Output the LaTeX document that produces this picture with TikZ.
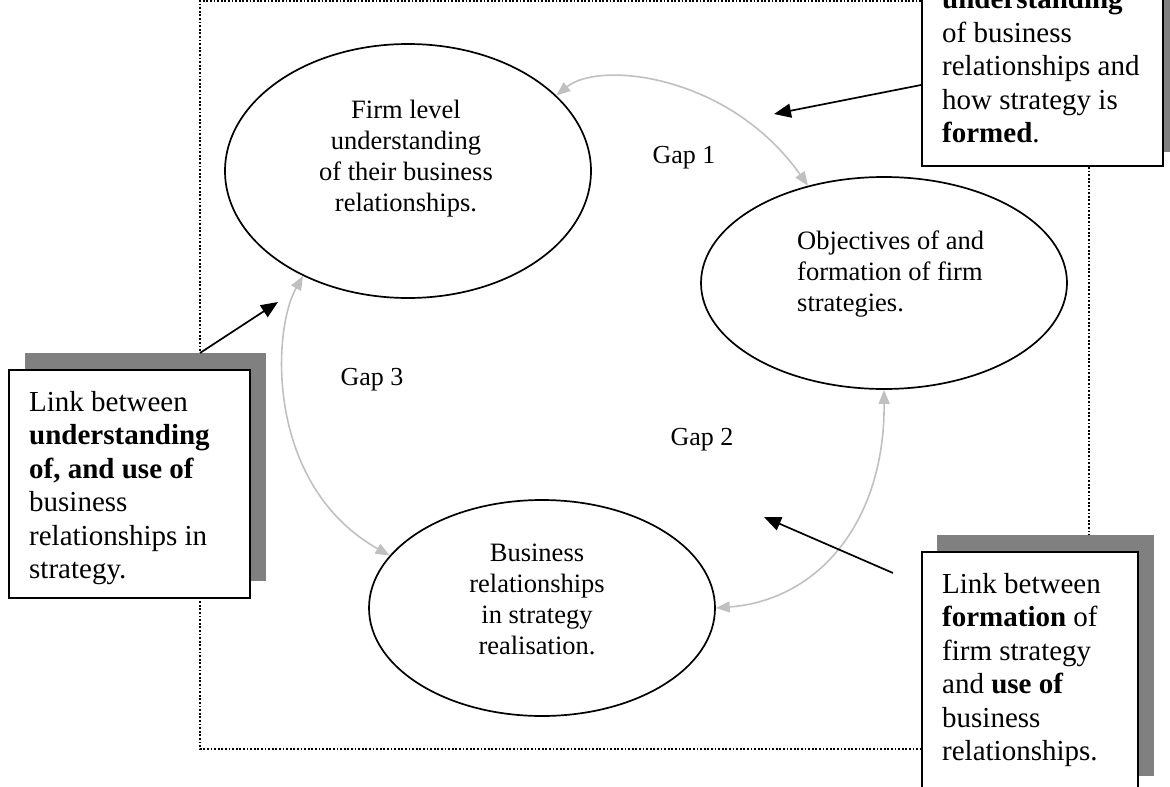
\documentclass[tikz,border=0pt]{standalone}
\usepackage{fontspec}
\setmainfont{Liberation Serif}
\usetikzlibrary{arrows.meta,calc,shapes.geometric}
\definecolor{shadowgray}{HTML}{808080}
\definecolor{arrowgray}{HTML}{C0C0C0}
\tikzset{
  ell/.style={draw, ellipse, line width=1.7pt, inner sep=0pt},
  etext/.style={font=\fontsize{26.5}{31}\selectfont, inner sep=0pt},
  boxtext/.style={font=\fontsize{29}{33.5}\selectfont, inner sep=0pt, align=left, anchor=north west},
  gaplabel/.style={font=\fontsize{26}{31}\selectfont, inner sep=0pt, anchor=base},
  notebox/.style={draw, fill=white, line width=2pt, inner sep=0pt},
  shadowbox/.style={fill=shadowgray, inner sep=0pt, anchor=north west},
  framelines/.style={line width=1.8pt, dash pattern=on 1.8pt off 1.8pt},
  blackarrow/.style={line width=1.7pt, -{Triangle[length=17pt,width=14pt]}},
  grayarrow/.style={draw=arrowgray, line width=1.6pt, {Triangle[length=14pt,width=11pt]}-{Triangle[length=14pt,width=11pt]}}
}
\begin{document}
\begin{tikzpicture}[x=1pt,y=-1pt]
\useasboundingbox (0,0) rectangle (1170,787);
\clip (0,0) rectangle (1170,787);

% dotted frame
\draw[framelines] (921,1) -- (200,1) -- (200,749) -- (921,749);
\draw[framelines] (1089,167) -- (1089,535);

% ellipses
\node[ell, minimum width=366pt, minimum height=254pt] (e1) at (408,171) {};
\node[ell, minimum width=366pt, minimum height=212pt] (e2) at (884,283) {};
\node[ell, minimum width=346pt, minimum height=216pt] (e3) at (542,608) {};

\node[etext, anchor=north, align=center] (t1) at (406,100) {Firm level\\understanding\\of their business\\relationships.};
\node[etext, anchor=north west, align=left] (t2) at (797,231) {Objectives of and\\formation of firm\\strategies.};
\node[etext, anchor=north, align=center] (t3) at (537,544) {Business\\relationships\\in strategy\\realisation.};

% gap labels
\node[gaplabel] (g1) at (684,163) {Gap 1};
\node[gaplabel] (g2) at (702,445) {Gap 2};
\node[gaplabel] (g3) at (372,385) {Gap 3};

% gray double arrows
\draw[grayarrow] (e1.27.5) .. controls (600,60) and (730,75) .. (e2.128.4);
\draw[grayarrow] (e1.225.8) .. controls (272,330) and (265,485) .. (e3.161.2);
\draw[grayarrow] (e3.east) .. controls (820,600) and (885,520) .. (e2.south);

% left note box
\node[shadowbox, minimum width=241pt, minimum height=228pt] (lbs) at (25,353) {};
\node[notebox, anchor=north west, minimum width=241pt, minimum height=228pt] (lb) at (8,369) {};
\node[boxtext] (lbt) at (29,391) {Link between\\\textbf{understanding}\\\textbf{of, and use of}\\business\\relationships in\\strategy.};
\coordinate (a2) at (278,302);
\draw[blackarrow] ([xshift=175pt]lbs.north west) -- (a2);

% bottom-right note box
\node[shadowbox, minimum width=217pt, minimum height=241pt] (brs) at (937,535) {};
\node[notebox, anchor=north west, minimum width=216pt, minimum height=241pt] (br) at (921,551) {};
\node[boxtext] (brt) at (942,573) {Link between\\\textbf{formation} of\\firm strategy\\and \textbf{use of}\\business\\relationships.};
\coordinate (a3) at (764,517);
\draw[blackarrow] ([xshift=-28pt,yshift=-22pt]br.north west) -- (a3);

% top-right note box
\node[shadowbox, minimum width=241pt, minimum height=232pt] (trs) at (937,-80) {};
\node[notebox, anchor=south west, minimum width=241pt, minimum height=232pt] (tr) at (921,167) {};
\node[boxtext] (trt) at (942,-11.5) {\textbf{understanding}\\of business\\relationships and\\how strategy is\\\textbf{formed}.};
\coordinate (a1) at (774,114);
\draw[blackarrow] ([yshift=82pt]tr.south west) -- (a1);
\end{tikzpicture}
\end{document}
